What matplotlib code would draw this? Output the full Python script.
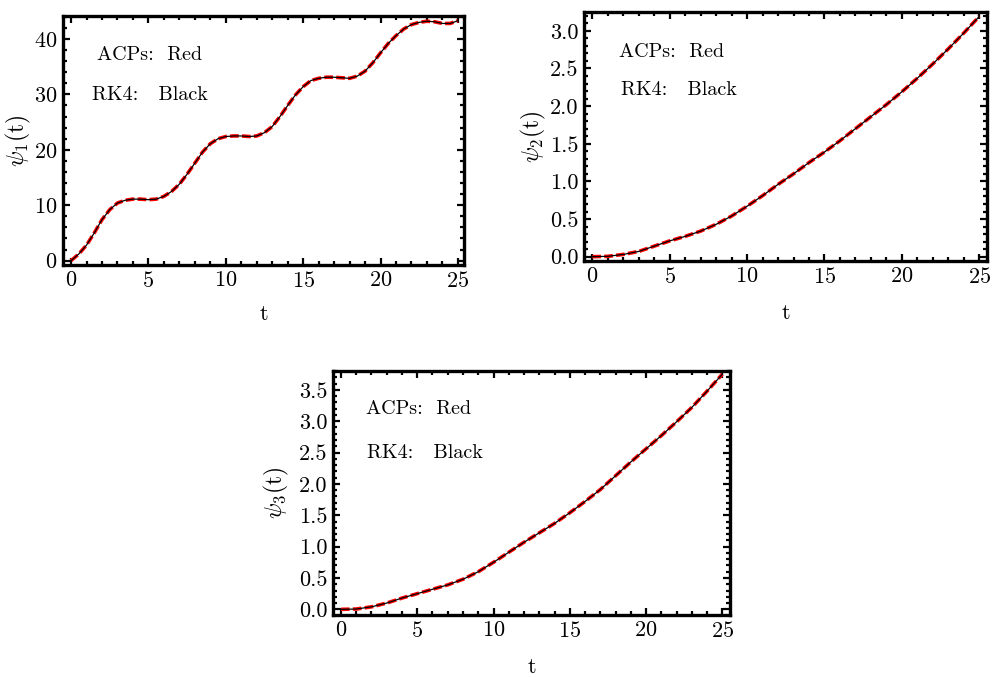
import numpy as np
import matplotlib
matplotlib.use('Agg')
import matplotlib.pyplot as plt
from matplotlib.ticker import MultipleLocator, FormatStrFormatter

plt.rcParams['font.family'] = ['cmr10', 'DejaVu Serif']
plt.rcParams['mathtext.fontset'] = 'cm'
plt.rcParams['axes.formatter.use_mathtext'] = True

# значення
t1 = np.arange(0, 25.5, 0.5)
psi1 = [0, 1.2, 2.8, 5.0, 7.4, 9.2, 10.4, 10.9, 11.1, 11.1, 11.0, 11.1, 11.6,
        12.5, 13.8, 15.6, 17.6, 19.6, 21.1, 22.0, 22.4, 22.5, 22.5, 22.4, 22.5,
        23.1, 24.2, 26.0, 28.0, 29.9, 31.4, 32.5, 32.9, 33.1, 33.1, 33.0, 32.9,
        33.3, 34.2, 35.7, 37.5, 39.2, 40.6, 41.8, 42.6, 43.0, 43.2, 43.1, 42.8,
        42.8, 43.3]

t2 = np.arange(0, 26, 1)
psi2 = [0, 0.005, 0.03, 0.07, 0.14, 0.21, 0.27, 0.34, 0.43, 0.54, 0.67, 0.81,
        0.96, 1.10, 1.25, 1.39, 1.54, 1.70, 1.86, 2.02, 2.19, 2.37, 2.56, 2.76,
        2.97, 3.19]

t3 = np.arange(0, 26, 1)
psi3 = [0, 0.005, 0.04, 0.10, 0.18, 0.25, 0.32, 0.39, 0.48, 0.60, 0.75, 0.91,
        1.07, 1.22, 1.37, 1.54, 1.72, 1.91, 2.13, 2.35, 2.56, 2.77, 2.99, 3.22,
        3.48, 3.75]

fig = plt.figure(figsize=(9.92, 6.77), dpi=100)


def panel(rect, t, y, xlim, ylim, ymaj, ymin, ylab, txt_pos, xlab_y, ylab_x):
    ax = fig.add_axes(rect)
    ax.plot(t, y, color='red', lw=2.6, dashes=(2.4, 0.9))
    ax.plot(t, y, color='black', lw=0.9)
    ax.set_xlim(*xlim)
    ax.set_ylim(*ylim)
    ax.xaxis.set_major_locator(MultipleLocator(5))
    ax.xaxis.set_minor_locator(MultipleLocator(1))
    ax.yaxis.set_major_locator(MultipleLocator(ymaj))
    ax.yaxis.set_minor_locator(MultipleLocator(ymin))
    if ymaj < 1:
        ax.yaxis.set_major_formatter(FormatStrFormatter('%.1f'))
    ax.tick_params(which='both', direction='in', top=True, right=True,
                   labelsize=16, width=1.6, pad=4)
    ax.tick_params(which='major', length=5)
    ax.tick_params(which='minor', length=3)
    for s in ax.spines.values():
        s.set_linewidth(2.4)
    ax.set_xlabel('t', fontsize=16)
    ax.set_ylabel(ylab, fontsize=17)
    ax.xaxis.set_label_coords(0.5, xlab_y)
    ax.yaxis.set_label_coords(ylab_x, 0.5)
    (ax1, ay1), (ax2, ay2) = txt_pos
    ax.text(ax1, ay1, 'ACPs:  Red', transform=ax.transAxes, fontsize=14.5,
            va='center', ha='left')
    ax.text(ax2, ay2, 'RK4:   Black', transform=ax.transAxes, fontsize=14.5,
            va='center', ha='left')
    return ax


panel([0.0635, 0.6086, 0.4042, 0.3678], t1, psi1, (-0.52, 25.39), (-0.78, 44.15),
      10, 2, r'$\psi_1$(t)', ((0.085, 0.843), (0.072, 0.683)), -0.16, -0.075)
panel([0.5887, 0.6145, 0.4062, 0.3678], t2, psi2, (-0.54, 25.5), (-0.057, 3.25),
      0.5, 0.1, r'$\psi_2$(t)', ((0.087, 0.84), (0.091, 0.687)), -0.169, -0.09)
panel([0.3357, 0.0916, 0.4002, 0.3604], t3, psi3, (-0.52, 25.5), (-0.09, 3.80),
      0.5, 0.1, r'$\psi_3$(t)', ((0.083, 0.844), (0.086, 0.665)), -0.176, -0.105)

fig.savefig('out.png', dpi=100)
